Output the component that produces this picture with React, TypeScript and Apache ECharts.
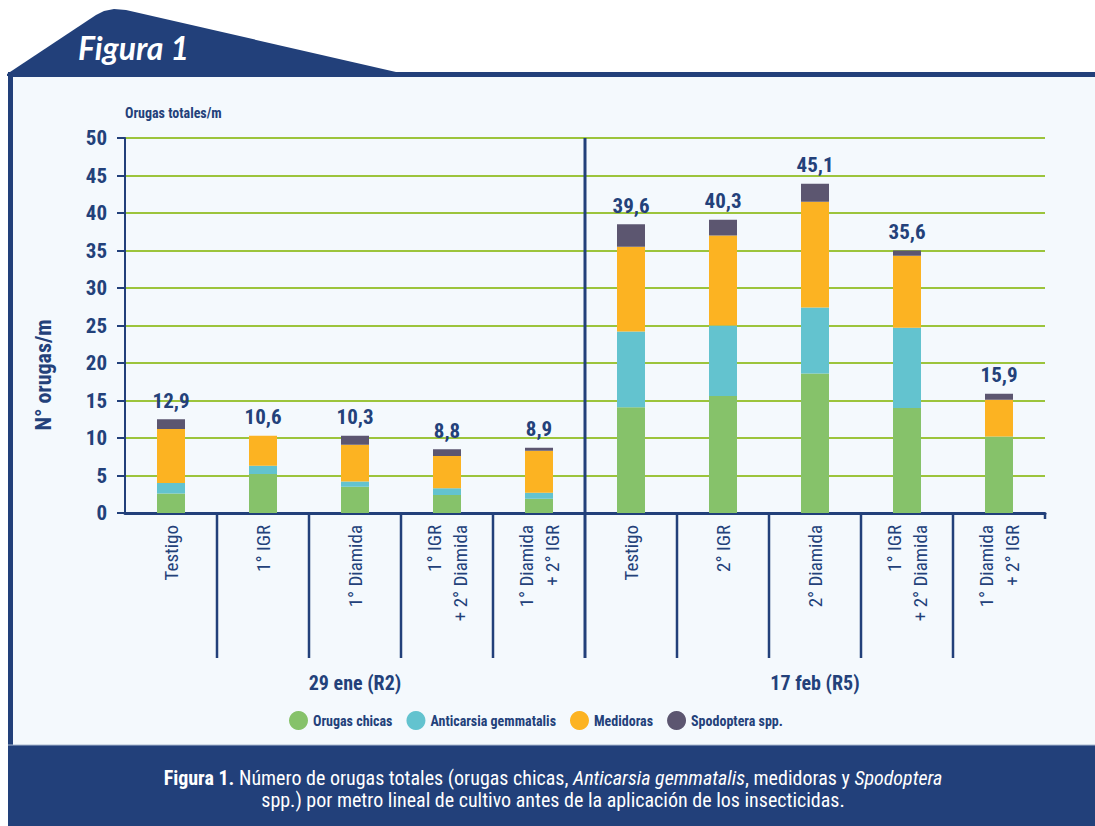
import React, { useEffect, useRef } from "react";
import * as echarts from "echarts";

const categories = [
  "Testigo",
  "1° IGR",
  "1° Diamida",
  "1° IGR\n+ 2° Diamida",
  "1° Diamida\n+ 2° IGR",
  "Testigo",
  "2° IGR",
  "2° Diamida",
  "1° IGR\n+ 2° Diamida",
  "1° Diamida\n+ 2° IGR",
];
const groupLabels = ["29 ene (R2)", "17 feb (R5)"];
const seriesNames = ["Orugas chicas", "Anticarsia gemmatalis", "Medidoras", "Spodoptera spp."];
const orugasChicas = [2.6, 5.2, 3.5, 2.4, 1.9, 14.1, 15.6, 18.6, 14.0, 10.2];
const anticarsia = [1.4, 1.1, 0.7, 0.9, 0.8, 10.1, 9.4, 8.8, 10.7, 0];
const medidoras = [7.2, 4.0, 4.9, 4.3, 5.6, 11.3, 12.0, 14.1, 9.6, 4.9];
const spodoptera = [1.3, 0, 1.2, 0.9, 0.4, 3.0, 2.1, 2.4, 0.7, 0.8];
const totalLabels = ["12,9", "10,6", "10,3", "8,8", "8,9", "39,6", "40,3", "45,1", "35,6", "15,9"];
const seriesColors = ["#86c26a", "#63c3cf", "#fcb322", "#5c5670"];
const yMin = 0;
const yMax = 50;
const yInterval = 5;

const DARK = "#22407a";
const BLUE = "#23417a";
const GRIDGREEN = "#9cc43c";
const PANEL = "#f4f9fd";
const FONT = "'Liberation Sans Narrow', 'Roboto Condensed', 'DejaVu Sans Condensed', 'Noto Sans', sans-serif";

export default function App() {
  const ref = useRef<HTMLDivElement>(null);

  useEffect(() => {
    const chart = echarts.init(ref.current!, null, { renderer: "svg" });
    const stacks = [orugasChicas, anticarsia, medidoras, spodoptera];
    const totals = categories.map((_, i) => stacks.reduce((s, arr) => s + arr[i], 0));

    const staticGraphics: any[] = [
      { id: "frame", type: "rect", z: -100, shape: { x: 8, y: 72, width: 1087, height: 754 }, style: { fill: DARK } },
      {
        id: "tab",
        type: "polygon",
        z: -100,
        shape: { points: [[7, 74], [96, 15], [104, 11], [114, 9], [126, 10], [396, 72], [396, 76], [7, 76]] },
        style: { fill: DARK },
      },
      { id: "panel", type: "rect", z: -99, shape: { x: 13, y: 77, width: 1082, height: 668 }, style: { fill: PANEL } },
      { id: "capline", type: "line", z: -98, shape: { x1: 8, y1: 745, x2: 1095, y2: 745 }, style: { stroke: "#a9b8cf", lineWidth: 1 } },
      {
        id: "figura",
        type: "text",
        z: 5,
        x: 78,
        y: 47,
        style: {
          text: "Figura 1",
          fill: "#ffffff",
          fontSize: 32,
          fontWeight: "bold",
          fontStyle: "italic",
          fontFamily: "Lato, 'Noto Sans', sans-serif",
          verticalAlign: "middle",
        },
      },
      {
        id: "caption",
        type: "text",
        z: 5,
        x: 553,
        y: 789,
        style: {
          text:
            "{b|Figura 1.} Número de orugas totales (orugas chicas, {i|Anticarsia gemmatalis}, medidoras y {i|Spodoptera}\nspp.) por metro lineal de cultivo antes de la aplicación de los insecticidas.",
          fill: "#ffffff",
          fontSize: 20,
          fontFamily: FONT,
          align: "center",
          verticalAlign: "middle",
          lineHeight: 22,
          rich: {
            b: { fill: "#ffffff", fontSize: 20, fontFamily: FONT, fontWeight: "bold", lineHeight: 22 },
            i: { fill: "#ffffff", fontSize: 20, fontFamily: FONT, fontStyle: "italic", lineHeight: 22 },
          },
        },
      },
      {
        id: "ytitle",
        type: "text",
        z: 5,
        x: 43,
        y: 375,
        rotation: Math.PI / 2,
        style: {
          text: "N° orugas/m",
          fill: BLUE,
          fontSize: 22,
          fontWeight: "bold",
          fontFamily: FONT,
          align: "center",
          verticalAlign: "middle",
        },
      },
    ];

    const barSeries = seriesNames.map((name, k) => ({
      name,
      type: "bar",
      stack: "total",
      barWidth: 28,
      barGap: "-100%",
      data: stacks[k],
      itemStyle: { color: seriesColors[k] },
      silent: true,
    }));

    chart.setOption({
      animation: false,
      backgroundColor: "#ffffff",
      grid: { left: 125, right: 50, top: 138, bottom: 313, containLabel: false, outerBoundsMode: "none" },
      legend: {
        data: seriesNames,
        left: 284,
        top: 706,
        icon: "circle",
        itemWidth: 19,
        itemHeight: 19,
        itemGap: 14,
        textStyle: { color: BLUE, fontSize: 14, fontWeight: "bold", fontFamily: FONT },
      },
      xAxis: {
        type: "category",
        data: categories,
        boundaryGap: true,
        axisLine: { show: true, lineStyle: { color: DARK, width: 3 } },
        axisTick: { show: false },
        axisLabel: {
          interval: 0,
          rotate: 90,
          margin: 12,
          color: BLUE,
          fontSize: 19,
          lineHeight: 26,
          fontFamily: FONT,
        },
        splitLine: { show: false },
      },
      yAxis: {
        type: "value",
        min: yMin,
        max: yMax,
        interval: yInterval,
        name: "Orugas totales/m",
        nameLocation: "end",
        nameGap: 18,
        nameTextStyle: { color: BLUE, fontSize: 14, fontWeight: "bold", fontFamily: FONT, align: "left" },
        axisLine: { show: true, lineStyle: { color: DARK, width: 2 } },
        axisTick: { show: true, length: 8, lineStyle: { color: DARK, width: 2 } },
        axisLabel: { color: BLUE, fontSize: 21, fontWeight: "bold", fontFamily: FONT, margin: 18 },
        splitLine: { show: true, lineStyle: { color: GRIDGREEN, width: 2 } },
      },
      series: [
        ...barSeries,
        {
          name: "Total",
          type: "bar",
          barWidth: 28,
          barGap: "-100%",
          data: totals,
          itemStyle: { color: "rgba(0,0,0,0)" },
          silent: true,
          label: {
            show: true,
            position: "top",
            distance: 8,
            formatter: (p: any) => totalLabels[p.dataIndex],
            color: BLUE,
            fontSize: 21,
            fontWeight: "bold",
            fontFamily: FONT,
          },
        },
      ],
      graphic: staticGraphics,
    });

    const y0 = chart.convertToPixel({ yAxisIndex: 0 }, 0) as number;
    const yTop = chart.convertToPixel({ yAxisIndex: 0 }, yMax) as number;
    const cx = categories.map((_, i) => chart.convertToPixel({ xAxisIndex: 0 }, i) as number);
    const band = cx[1] - cx[0];
    const tickBottom = y0 + 145;
    const dyn: any[] = [];
    for (let i = 1; i < categories.length; i++) {
      const x = (cx[i - 1] + cx[i]) / 2;
      const isGroup = i === 5;
      dyn.push({
        id: "sep" + i,
        type: "line",
        z: 10,
        shape: { x1: x, y1: isGroup ? yTop : y0, x2: x, y2: tickBottom },
        style: { stroke: DARK, lineWidth: isGroup ? 3 : 2.5 },
      });
    }
    const xEnd = cx[cx.length - 1] + band / 2;
    dyn.push({
      id: "endstub",
      type: "line",
      z: 10,
      shape: { x1: xEnd, y1: y0, x2: xEnd, y2: y0 + 6 },
      style: { stroke: DARK, lineWidth: 2.5 },
    });
    groupLabels.forEach((g, k) => {
      const xc = cx[k * 5 + 2];
      dyn.push({
        id: "grp" + k,
        type: "text",
        z: 10,
        x: xc,
        y: y0 + 170,
        style: {
          text: g,
          fill: BLUE,
          fontSize: 20,
          fontWeight: "bold",
          fontFamily: FONT,
          align: "center",
          verticalAlign: "middle",
        },
      });
    });
    chart.setOption({ graphic: [...staticGraphics, ...dyn] });

    return () => chart.dispose();
  }, []);

  return (
    <div
      ref={ref}
      style={{ position: "fixed", left: 0, top: 0, width: 1095, height: 826 }}
    />
  );
}
